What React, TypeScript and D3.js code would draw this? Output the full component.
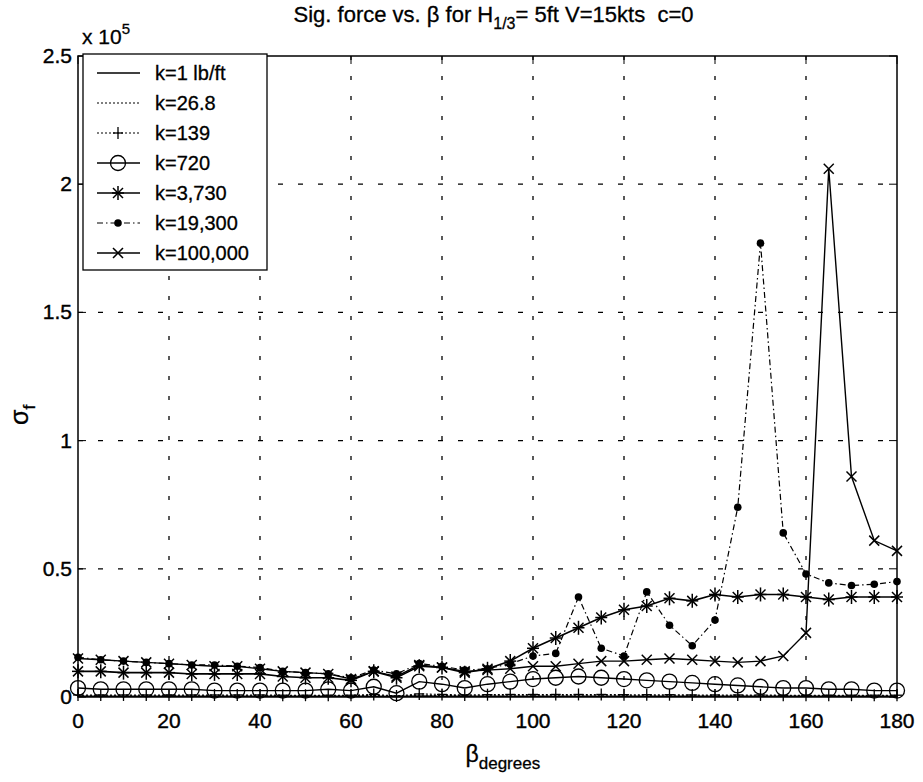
import React from "react";
import * as d3 from "d3";

const degrees = [0,5,10,15,20,25,30,35,40,45,50,55,60,65,70,75,80,85,90,95,100,105,110,115,120,125,130,135,140,145,150,155,160,165,170,175,180];

const k1 = [0.003,0.003,0.003,0.003,0.003,0.003,0.003,0.003,0.003,0.003,0.003,0.003,0.003,0.003,0.002,0.004,0.003,0.003,0.003,0.003,0.003,0.003,0.003,0.003,0.003,0.003,0.003,0.003,0.003,0.003,0.003,0.003,0.003,0.003,0.003,0.003,0.003];
const k26 = [0.005,0.005,0.005,0.005,0.005,0.005,0.005,0.005,0.005,0.005,0.005,0.005,0.005,0.006,0.003,0.007,0.006,0.005,0.005,0.005,0.005,0.005,0.005,0.005,0.005,0.005,0.005,0.005,0.005,0.005,0.005,0.005,0.005,0.005,0.005,0.005,0.005];
const k139 = [0.008,0.008,0.008,0.008,0.008,0.008,0.008,0.008,0.008,0.007,0.007,0.007,0.007,0.010,0.004,0.012,0.010,0.008,0.009,0.010,0.010,0.010,0.010,0.010,0.009,0.009,0.009,0.008,0.008,0.008,0.008,0.007,0.007,0.007,0.007,0.007,0.007];
const k720 = [0.035,0.03,0.03,0.03,0.03,0.03,0.025,0.025,0.025,0.025,0.025,0.03,0.025,0.04,0.015,0.06,0.05,0.035,0.05,0.06,0.07,0.075,0.08,0.075,0.07,0.065,0.06,0.055,0.05,0.045,0.04,0.035,0.035,0.03,0.03,0.025,0.025];
const k3730 = [0.10,0.10,0.095,0.095,0.095,0.09,0.09,0.09,0.09,0.08,0.075,0.075,0.065,0.10,0.075,0.12,0.115,0.095,0.11,0.14,0.19,0.23,0.27,0.31,0.34,0.355,0.385,0.375,0.40,0.39,0.40,0.40,0.39,0.38,0.39,0.39,0.39];
const k19300 = [0.155,0.145,0.14,0.135,0.13,0.125,0.125,0.12,0.115,0.10,0.095,0.09,0.075,0.105,0.09,0.13,0.12,0.105,0.11,0.13,0.16,0.17,0.39,0.19,0.16,0.41,0.28,0.20,0.30,0.74,1.77,0.64,0.48,0.445,0.435,0.44,0.45];
const k100000 = [0.15,0.145,0.14,0.135,0.13,0.125,0.12,0.12,0.11,0.10,0.095,0.09,0.07,0.10,0.08,0.125,0.115,0.10,0.105,0.11,0.12,0.12,0.13,0.14,0.14,0.145,0.15,0.145,0.14,0.135,0.14,0.16,0.25,2.06,0.86,0.61,0.57];

const xTicks = [0,20,40,60,80,100,120,140,160,180];
const yTicks = [0,0.5,1,1.5,2,2.5];
const yTickLabels = ["0","0.5","1","1.5","2","2.5"];

type Marker = "none" | "plus" | "circle" | "star" | "dot" | "x";
const seriesNames = ["k=1 lb/ft","k=26.8","k=139","k=720","k=3,730","k=19,300","k=100,000"];
const seriesValues = [k1,k26,k139,k720,k3730,k19300,k100000];
const seriesMarkers: Marker[] = ["none","none","plus","circle","star","dot","x"];
const seriesDash = ["", "2,2", "2,2", "", "", "6,3,1.5,3", ""];
const seriesWidth = [1.4, 1.1, 1.1, 1.4, 1.6, 1.2, 1.4];

const W = 923, H = 782;
const L = 78, R = 897, T = 56, B = 697;
const FONT = "'Liberation Sans', Arial, Helvetica, sans-serif";

function MarkerShape({ kind, cx, cy }: { kind: Marker; cx: number; cy: number }) {
  const s = { stroke: "#000", strokeWidth: 1.3, fill: "none" } as const;
  switch (kind) {
    case "plus":
      return <g {...s}><line x1={cx-5} x2={cx+5} y1={cy} y2={cy}/><line x1={cx} x2={cx} y1={cy-6} y2={cy+6}/></g>;
    case "circle":
      return <circle cx={cx} cy={cy} r={7.5} {...s} />;
    case "star":
      return <g {...s} strokeWidth={1.5}>
        <line x1={cx-6} x2={cx+6} y1={cy} y2={cy}/>
        <line x1={cx} x2={cx} y1={cy-7} y2={cy+7}/>
        <line x1={cx-5} x2={cx+5} y1={cy-5} y2={cy+5}/>
        <line x1={cx-5} x2={cx+5} y1={cy+5} y2={cy-5}/>
      </g>;
    case "dot":
      return <circle cx={cx} cy={cy} r={3.8} fill="#000" />;
    case "x":
      return <g {...s} strokeWidth={1.5}>
        <line x1={cx-5} x2={cx+5} y1={cy-5} y2={cy+5}/>
        <line x1={cx-5} x2={cx+5} y1={cy+5} y2={cy-5}/>
      </g>;
    default:
      return null;
  }
}

export default function App() {
  const x = d3.scaleLinear().domain([0, 180]).range([L, R]);
  const y = d3.scaleLinear().domain([0, 2.5]).range([B, T]);
  const line = d3.line<number>().x((_, i) => x(degrees[i])).y((v) => y(v));

  const legX = 83, legY = 54, legW = 184, rowH = 30;
  const legH = rowH * seriesNames.length + 6;

  return (
    <svg width={W} height={H} style={{ position: "absolute", left: 0, top: 0, background: "#fff" }} fontFamily={FONT}>
      <rect x={0} y={0} width={W} height={H} fill="#fff" />
      {/* grid */}
      <g stroke="#000" strokeWidth={1.3}>
        {xTicks.slice(1, -1).map((t) => (
          <line key={"gx" + t} x1={x(t)} x2={x(t)} y1={T} y2={B} strokeDasharray="4,16" />
        ))}
        {yTicks.slice(1, -1).map((t) => (
          <line key={"gy" + t} x1={L} x2={R} y1={y(t)} y2={y(t)} strokeDasharray="5,15" />
        ))}
      </g>
      {/* ticks */}
      <g stroke="#000" strokeWidth={1}>
        {xTicks.map((t) => (
          <g key={"tx" + t}>
            <line x1={x(t)} x2={x(t)} y1={B} y2={B - 8} />
            <line x1={x(t)} x2={x(t)} y1={T} y2={T + 8} />
          </g>
        ))}
        {yTicks.map((t) => (
          <g key={"ty" + t}>
            <line x1={L} x2={L + 8} y1={y(t)} y2={y(t)} />
            <line x1={R} x2={R - 8} y1={y(t)} y2={y(t)} />
          </g>
        ))}
      </g>
      {/* series */}
      {seriesValues.map((vals, si) => (
        <g key={"s" + si}>
          <path d={line(vals) || ""} fill="none" stroke="#000" strokeWidth={seriesWidth[si]}
            strokeDasharray={seriesDash[si] || undefined} />
          {seriesMarkers[si] !== "none" && vals.map((v, i) => (
            <MarkerShape key={i} kind={seriesMarkers[si]} cx={x(degrees[i])} cy={y(v)} />
          ))}
        </g>
      ))}
      {/* frame */}
      <rect x={L} y={T} width={R - L} height={B - T} fill="none" stroke="#000" strokeWidth={1.5} />
      {/* tick labels */}
      <g fontSize={21} fill="#000" stroke="#000" strokeWidth={0.4}>
        {xTicks.map((t) => (
          <text key={"lx" + t} x={x(t)} y={B + 31} textAnchor="middle">{t}</text>
        ))}
        {yTicks.map((t, i) => (
          <text key={"ly" + t} x={L - 6} y={y(t) + 7} textAnchor="end">{yTickLabels[i]}</text>
        ))}
      </g>
      <text x={L + 4} y={44} fontSize={21} stroke="#000" strokeWidth={0.3}>x 10<tspan dy={-10} fontSize={15}>5</tspan></text>
      {/* title */}
      <text x={(L + R) / 2 + 6} y={22} textAnchor="middle" fontSize={22} stroke="#000" strokeWidth={0.3}>
        Sig. force vs. β for H<tspan dy={7} fontSize={16}>1/3</tspan><tspan dy={-7}>= 5ft V=15kts{"\u00a0\u00a0"}c=0</tspan>
      </text>
      {/* axis labels */}
      <text x={(L + R) / 2 - 22} y={762} fontSize={23} stroke="#000" strokeWidth={0.3}>β<tspan dy={7} fontSize={17}>degrees</tspan></text>
      <text transform={`translate(28, 425) rotate(-90)`} fontSize={25} stroke="#000" strokeWidth={0.3}>σ<tspan dy={7} fontSize={17}>f</tspan></text>
      {/* legend */}
      <g>
        <rect x={legX} y={legY} width={legW} height={legH} fill="#fff" stroke="#000" strokeWidth={1.3} />
        {seriesNames.map((n, i) => {
          const cy = legY + 19 + i * rowH;
          return (
            <g key={"lg" + i}>
              <line x1={legX + 14} x2={legX + 57} y1={cy} y2={cy} stroke="#000" strokeWidth={seriesWidth[i]}
                strokeDasharray={seriesDash[i] || undefined} />
              <MarkerShape kind={seriesMarkers[i]} cx={legX + 35} cy={cy} />
              <text x={legX + 72} y={cy + 7} fontSize={20} stroke="#000" strokeWidth={0.3}>{n}</text>
            </g>
          );
        })}
      </g>
    </svg>
  );
}
